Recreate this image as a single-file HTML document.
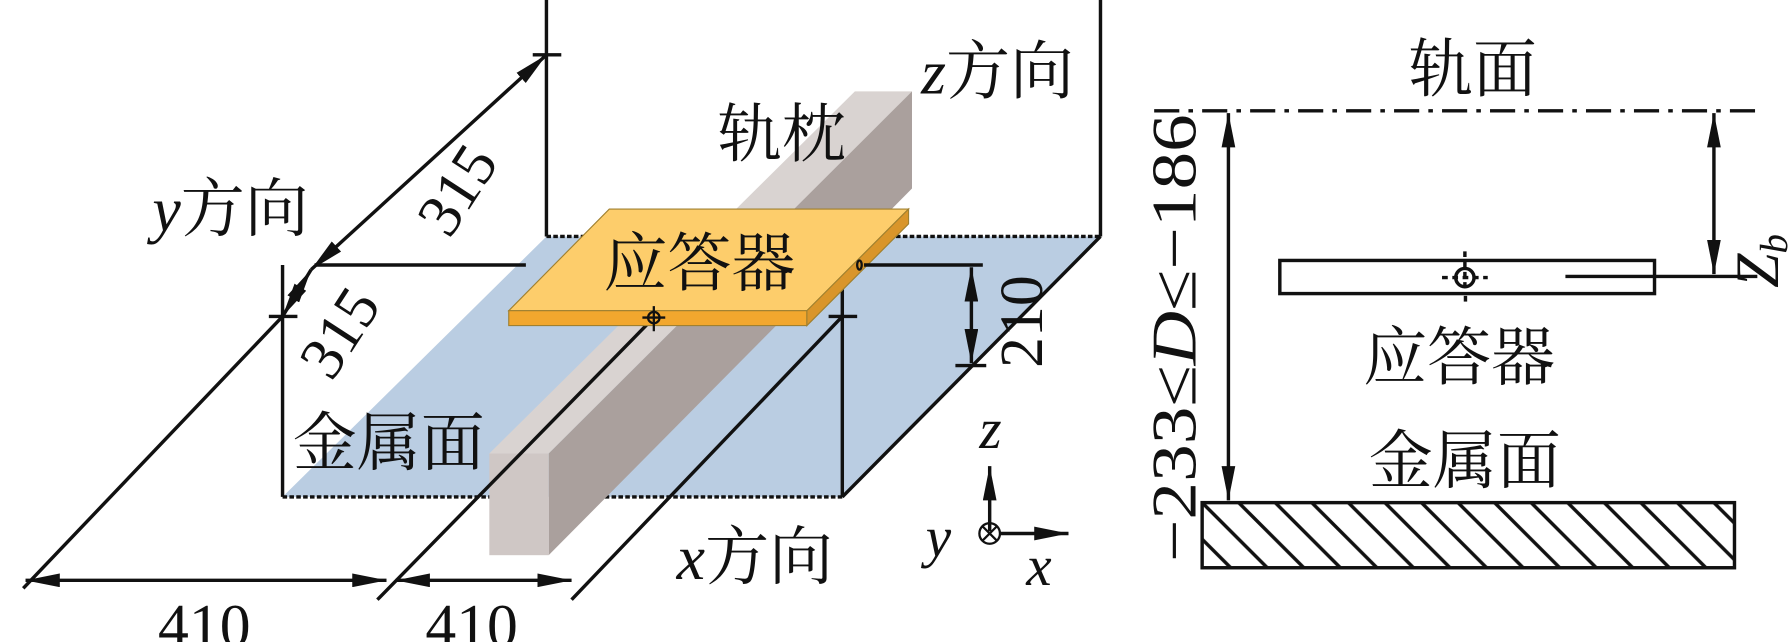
<!DOCTYPE html>
<html><head><meta charset="utf-8"><style>html,body{margin:0;padding:0;background:#fff}svg{display:block}</style></head>
<body>
<svg width="1792" height="642" viewBox="0 0 1568 562" xmlns="http://www.w3.org/2000/svg" font-family="'Liberation Serif','Noto Serif CJK SC',serif">
<defs>
<marker id="b" viewBox="0 0 30 12" refX="30" refY="6" markerWidth="30" markerHeight="12" orient="auto-start-reverse" markerUnits="userSpaceOnUse"><path d="M0,0L30,6L0,12z" fill="#111"/></marker>
<pattern id="h" width="32" height="60" patternUnits="userSpaceOnUse" x="1052" y="440"><path d="M-10,-10L60,60M22,-10L92,60M-42,-10L28,60" stroke="#111" stroke-width="3"/></pattern>
</defs>
<g stroke="#111" stroke-width="3" fill="none">
<polygon points="478,207 963,207 737,435 247,435" fill="#bacde2" stroke="none"/>
<line x1="478" y1="207" x2="963" y2="207" stroke-dasharray="4,2"/>
<line x1="247" y1="435" x2="737" y2="435" stroke-dasharray="4,2"/>
<line x1="478" y1="0" x2="478" y2="207"/>
<line x1="963" y1="0" x2="963" y2="207"/>
<line x1="963" y1="207" x2="737" y2="435"/>
<line x1="466" y1="48" x2="491" y2="48"/>
</g>
<polygon points="428,397 480,397 798,80 748,80" fill="#d9d3d1"/>
<polygon points="480,397 798,80 798,165 480,486" fill="#aaa09d"/>
<rect x="428" y="397" width="52" height="89" fill="#cfc7c5"/>
<g stroke="#111" stroke-width="3" fill="none">
<line x1="247" y1="232" x2="247" y2="435"/>
<line x1="275" y1="232" x2="460" y2="232"/>
<line x1="737" y1="236" x2="737" y2="435"/>
<line x1="725" y1="277" x2="750" y2="277"/>
<line x1="235" y1="277" x2="260" y2="277"/>
<line x1="20" y1="515" x2="247" y2="277"/>
<line x1="247" y1="277" x2="272" y2="236" marker-start="url(#b)" marker-end="url(#b)"/>
<line x1="272" y1="236" x2="478" y2="48" marker-start="url(#b)" marker-end="url(#b)"/>
<line x1="572" y1="278" x2="330" y2="525"/>
<line x1="737" y1="277" x2="500" y2="525"/>
<line x1="22" y1="508" x2="338" y2="508" marker-start="url(#b)" marker-end="url(#b)"/>
<line x1="346" y1="508" x2="500" y2="508" marker-start="url(#b)" marker-end="url(#b)"/>
<line x1="850" y1="234" x2="850" y2="318" marker-start="url(#b)" marker-end="url(#b)"/>
<line x1="836" y1="320" x2="863" y2="320"/>
<line x1="866" y1="465" x2="866" y2="408" marker-end="url(#b)"/>
<line x1="875" y1="467" x2="935" y2="467" marker-end="url(#b)"/>
<circle cx="866" cy="467" r="9" stroke-width="2"/>
<path d="M860,461L872,473M872,461L860,473" stroke-width="2"/>
</g>
<polygon points="533,183 795,183 706,272 445,272" fill="#fdcd6b" stroke="#a08030" stroke-width="1"/>
<polygon points="445,272 706,272 706,285 445,285" fill="#f2a72e" stroke="#a08030" stroke-width="1"/>
<polygon points="706,272 795,183 795,196 706,285" fill="#d9952a" stroke="#a08030" stroke-width="1"/>
<circle cx="572" cy="278" r="5" fill="none" stroke="#111" stroke-width="2"/>
<path d="M562,278H582M572,268V290" stroke="#111" stroke-width="2"/>
<ellipse cx="752" cy="232" rx="2" ry="4" fill="none" stroke="#111" stroke-width="2"/>
<line x1="756" y1="232" x2="860" y2="232" stroke="#111" stroke-width="3"/>
<g fill="#111" font-size="56">
<text x="806" y="82"><tspan font-style="italic">z</tspan>方向</text>
<text x="628" y="137">轨枕</text>
<text x="133" y="202"><tspan font-style="italic">y</tspan>方向</text>
<text x="528" y="250">应答器</text>
<text x="256" y="407">金属面</text>
<text x="592" y="507"><tspan font-style="italic">x</tspan>方向</text>
<text x="138" y="566" font-size="54">410</text>
<text x="372" y="566" font-size="54">410</text>
<text transform="translate(393,210) rotate(-57)" font-size="54">315</text>
<text transform="translate(290,335) rotate(-57)" font-size="54">315</text>
<text transform="translate(912,322) rotate(-90)" font-size="54">210</text>
<text x="857" y="392" font-style="italic" font-size="50">z</text>
<text x="810" y="487" font-style="italic" font-size="50">y</text>
<text x="898" y="512" font-style="italic" font-size="50">x</text>
<text x="1233" y="80">轨面</text>
<text x="1193" y="332">应答器</text>
<text x="1198" y="423">金属面</text>
<text transform="translate(1046,492) rotate(-90)" font-size="56" textLength="392" lengthAdjust="spacingAndGlyphs">−233≤<tspan font-style="italic">D</tspan>≤−186</text>
<text transform="translate(1556,252) rotate(-90)" font-size="54" font-style="italic">Z<tspan font-size="34" dy="8">b</tspan></text>
</g>
<g stroke="#111" stroke-width="3" fill="none">
<line x1="1010" y1="97" x2="1542" y2="97" stroke-dasharray="22,8,4,8"/>
<line x1="1075" y1="99" x2="1075" y2="438" marker-start="url(#b)" marker-end="url(#b)"/>
<line x1="1500" y1="99" x2="1500" y2="240" marker-start="url(#b)" marker-end="url(#b)"/>
<rect x="1120" y="228" width="328" height="29"/>
<line x1="1370" y1="242" x2="1538" y2="242"/>
<circle cx="1282" cy="243" r="8"/>
<path d="M1262,243H1302M1282,220V250" stroke-dasharray="5,4"/>
<rect x="1281" y="259" width="3" height="5" fill="#111" stroke="none"/>
<rect x="1052" y="440" width="466" height="57" fill="url(#h)"/>
</g>
</svg>
</body></html>
